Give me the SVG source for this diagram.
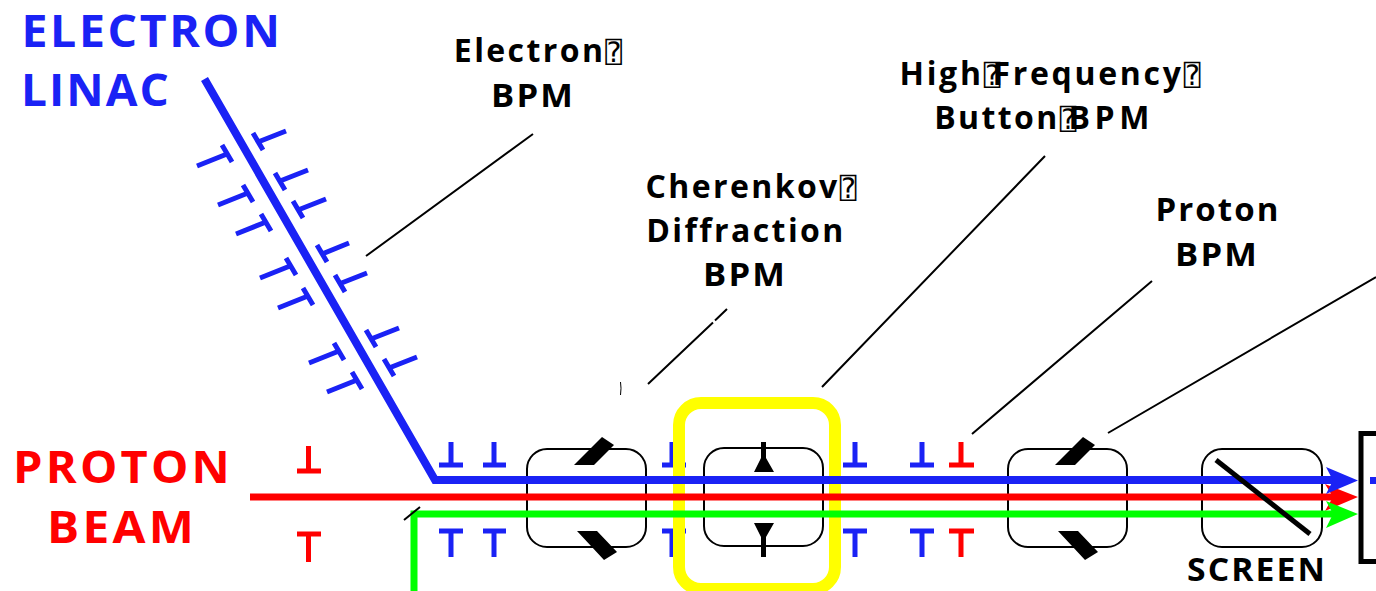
<svg xmlns="http://www.w3.org/2000/svg" width="1376" height="591" viewBox="0 0 1376 591">
<style>
text{font-family:"Open Sans","Noto Sans",sans-serif;font-weight:700;text-anchor:middle}
.lab{font-size:32px;letter-spacing:2.4px;fill:#000}
.bpm{font-size:32px;letter-spacing:2px;fill:#000}
.big{font-size:44px}
.box{fill:none;stroke:#000;stroke-width:2;}
.lead{fill:none;stroke:#000;stroke-width:2}
.b{stroke:#1a22f5;fill:none}
.r{stroke:#ff0000;fill:none}
.g{stroke:#00ff00;fill:none}
.beam{stroke-width:7;fill:none}
.mk{stroke-width:5;fill:none}
.q{font-family:"DejaVu Sans Mono","DejaVu Sans",monospace;font-weight:400;font-size:28px;letter-spacing:0}
</style>
<rect width="1376" height="591" fill="#fff"/>
<g id="labels">
<text class="big" fill="#1a22f5" x="152" y="47" style="letter-spacing:2.5px" textLength="261" lengthAdjust="spacingAndGlyphs">ELECTRON</text>
<text class="big" fill="#1a22f5" x="96" y="106" style="letter-spacing:2px" textLength="150" lengthAdjust="spacingAndGlyphs">LINAC</text>
<text class="big" fill="#ff0000" x="123" y="483" style="letter-spacing:3px" textLength="220" lengthAdjust="spacingAndGlyphs">PROTON</text>
<text class="big" fill="#ff0000" x="122" y="543" style="letter-spacing:3px" textLength="150" lengthAdjust="spacingAndGlyphs">BEAM</text>
<text class="lab" x="538" y="62">Electron<tspan class="q">⍰</tspan></text>
<text class="bpm" x="533" y="107" textLength="84" lengthAdjust="spacingAndGlyphs">BPM</text>
<text class="lab" x="751" y="198">Cherenkov<tspan class="q">⍰</tspan></text>
<text class="lab" x="746" y="242">Diffraction</text>
<text class="bpm" x="745" y="286" textLength="84" lengthAdjust="spacingAndGlyphs">BPM</text>
<text class="lab" x="1050" y="85" style="letter-spacing:2.7px">High<tspan class="q">⍰</tspan><tspan dx="-8">Frequency</tspan><tspan class="q">⍰</tspan></text>
<text class="lab" x="1044" y="129">Button<tspan class="q">⍰</tspan><tspan dx="-8" style="letter-spacing:4.5px">BPM</tspan></text>
<text class="lab" x="1218" y="221" style="letter-spacing:2px" textLength="125" lengthAdjust="spacingAndGlyphs">Proton</text>
<text class="bpm" x="1217" y="266" textLength="84" lengthAdjust="spacingAndGlyphs">BPM</text>
<text class="lab" x="1257" y="581" style="letter-spacing:2px" textLength="140" lengthAdjust="spacingAndGlyphs">SCREEN</text>
</g>
<g id="markers">
<path class="b mk" d="M451 442V465M439 465H463M494 442V465M483 465H506M672 442V465M662 465H686M855 442V465M843 465H867M922 442V465M910 465H934"/>
<path class="r mk" d="M961 442V465M949 465H974M308.5 446V471M297 471H321"/>
<path class="b mk" d="M451 557V531M439 531H463M494 557V531M483 531H506M672 557V531M662 531H686M855 557V531M843 531H867M922 557V531M910 531H934"/>
<path class="r mk" d="M961 557V531M949 531H974M308.5 562V534M297 534H321"/>
<path class="b mk" d="M253 133L263 150M258 142L286 131M275 173L285 190M280 181L308 170M293 201L303 218M298 210L326 199M317 245L327 262M322 254L349 243M335 275L345 292M339 284L367 273M366 330L376 347M371 339L399 328M384 359L394 376M389 368L417 357"/>
<path class="b mk" d="M222 145L232 162M227 154L197 166M243 185L253 202M248 193L218 205M261 214L271 231M266 222L236 234M286 258L296 275M290 266L260 278M303 288L313 305M308 296L278 308M334 343L344 360M339 351L309 363M352 372L362 389M357 380L327 392"/>
</g>
<g id="cherenkov-highlight"><rect x="679" y="403" width="156" height="186" rx="22" fill="none" stroke="#ffff00" stroke-width="12"/></g>
<g id="bpm-electron"><rect class="box" x="527" y="449" width="119" height="98" rx="20"/>
<path d="M574 465L602 437L614 445L594 465ZM577 531L597 531L617 552L604 560Z"/></g>
<g id="button-bpm"><rect class="box" x="704" y="448" width="119" height="98" rx="20"/>
<path d="M761 442H766V458L774 472H754L761 458ZM754 523H774L766 537V557H761V537Z"/></g>
<g id="bpm-proton"><rect class="box" x="1008" y="449" width="119" height="98" rx="20"/>
<path d="M1055 465L1083 437L1095 445L1075 465ZM1058 531L1078 531L1098 552L1085 560Z"/></g>
<g id="screen"><rect class="box" x="1202" y="449" width="120" height="98" rx="20"/></g>
<g id="connectors">
<path class="r beam" d="M250 497H1340"/>
<path d="M1325 484L1358 497L1325 511L1333 497Z" fill="#ff0000"/>
<path class="g beam" d="M414 591V514H1340"/>
<path d="M1326 501L1358 514L1326 528L1333 514Z" fill="#00ff00"/>
<path class="b beam" style="stroke-width:8" d="M204.5 79L435 480H1340"/>
<path d="M1326 467L1358 480.5L1326 494L1333 480.5Z" fill="#1a22f5"/>
<path class="lead" d="M404 520L420 507M533 134L366 256M727 309L715 320.5M713 322.5L648 384M1045 156L822 387M1152 281L972 434M1376 277L1108 433"/>
<path d="M620.500 382Q621.500 388 620.500 395" stroke="#000" stroke-width="1" fill="none"/>
<path d="M1216 460L1310 534" stroke="#000" stroke-width="5" fill="none"/>
</g>
<g id="target"><path d="M1376 433.500H1361V561.500H1376" fill="none" stroke="#000" stroke-width="5"/><path d="M1370 480.500H1376" stroke="#1a22f5" stroke-width="7"/></g>
</svg>
